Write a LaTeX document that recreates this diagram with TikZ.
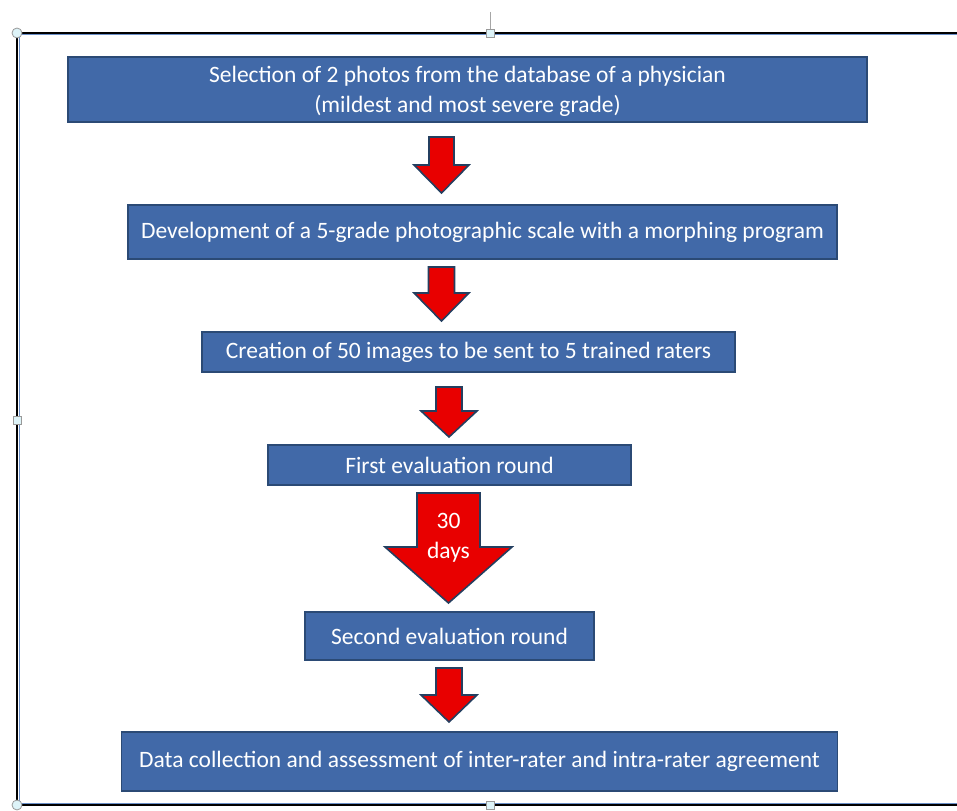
\documentclass[tikz,border=0pt]{standalone}
\usepackage{fontspec}
\setmainfont{Carlito}
\definecolor{boxfill}{HTML}{4169A8}
\definecolor{boxline}{HTML}{2B4A75}
\definecolor{arrred}{HTML}{E80000}
\definecolor{arrline}{HTML}{243F60}
\definecolor{handlefill}{HTML}{DDF3F8}
\definecolor{framblue}{HTML}{6A8FC8}
\tikzset{
  stepbox/.style={draw=boxline, line width=1.6pt, fill=boxfill, text=white,
    font=\fontsize{23.5}{30}\selectfont, align=center, inner sep=0pt},
  blockarr/.style={draw=arrline, line width=1.6pt, fill=arrred, line join=miter},
  handle/.style={draw=gray!80, fill=handlefill, line width=0.8pt},
}
\newcommand\blockarrow[7]{% cx, top, shoulder, tip, shaft half, head half, name
  \filldraw[blockarr] (#1-#5,-#2) -- (#1+#5,-#2) -- (#1+#5,-#3) -- (#1+#6,-#3)
    -- (#1,-#4) -- (#1-#6,-#3) -- (#1-#5,-#3) -- cycle;
  \coordinate (#7) at (#1,-#2);
}
\begin{document}
\begin{tikzpicture}[x=1pt,y=1pt]
\useasboundingbox (0,0) rectangle (957,-810);
% frame
\draw[framblue, line width=0.6pt] (18.8,-34.8) -- (990,-34.8);
\draw[framblue, line width=0.6pt] (18.8,-34.8) -- (18.8,-803.2);
\draw[framblue, line width=0.6pt] (18.8,-803.2) -- (990,-803.2);
\draw[black, line width=1.6pt] (17,-33) -- (990,-33);
\draw[black, line width=1.6pt] (17,-33) -- (17,-805);
\draw[black, line width=1.6pt] (17,-805) -- (990,-805);
\draw[gray!70, line width=0.8pt] (490,-12) -- (490,-29);
\coordinate (rot) at (490,-12);
\filldraw[handle] (17,-33) circle (5);
\filldraw[handle] (17,-805) circle (5);
\filldraw[handle] (486,-29) rectangle (494,-37);
\filldraw[handle] (486,-801) rectangle (494,-809);
\filldraw[handle] (13,-416) rectangle (21,-424);
% boxes
\node[stepbox, minimum width=799, minimum height=65] (b1) at (467.5,-89.5) {};
\node[text=white, font=\fontsize{23.5}{30}\selectfont, align=center, inner sep=0pt] (t1) at (467.5,-91.5)
  {Selection of 2 photos from the database of a physician\\(mildest and most severe grade)};
\node[stepbox, minimum width=709, minimum height=54] (b2) at (482.5,-232)
  {Development of a 5-grade photographic scale with a morphing program};
\node[stepbox, minimum width=533, minimum height=40] (b3) at (468.5,-352)
  {Creation of 50 images to be sent to 5 trained raters};
\node[stepbox, minimum width=363, minimum height=40] (b4) at (449.5,-465)
  {First evaluation round};
\node[stepbox, minimum width=289, minimum height=48] (b5) at (449.5,-636)
  {Second evaluation round};
\node[stepbox, minimum width=716, minimum height=59] (b6) at (479.5,-761.5)
  {Data collection and assessment of inter-rater and intra-rater agreement};
% arrows
\blockarrow{441.5}{137}{165}{193}{12.5}{27.5}{a1}
\blockarrow{441.5}{267}{293}{321}{13}{27.5}{a2}
\blockarrow{449}{387}{411}{437}{13}{28}{a3}
\blockarrow{448.5}{493}{547}{603}{31.5}{63.5}{a4}
\blockarrow{449}{668}{695}{722}{13}{28}{a5}
\node[text=white, font=\fontsize{23.5}{30}\selectfont, align=center] (d30) at (448.5,-538) {30\\days};
\end{tikzpicture}
\end{document}
